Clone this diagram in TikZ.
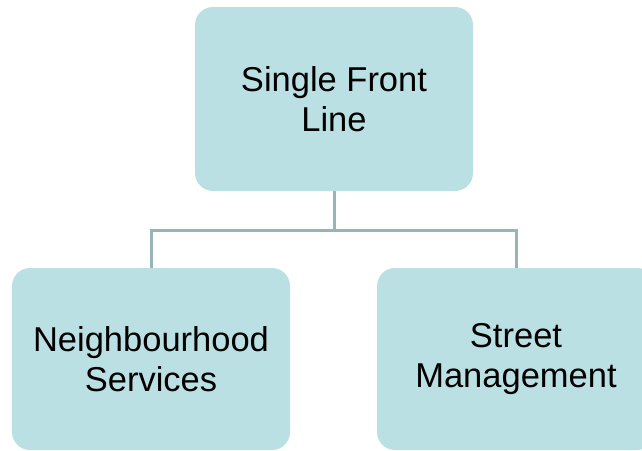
\documentclass[tikz,border=0pt]{standalone}
\usepackage{fontspec}
\setmainfont{Liberation Sans}
\definecolor{boxfill}{HTML}{BBE0E3}
\definecolor{linecol}{HTML}{97B4B8}
\begin{document}
\begin{tikzpicture}[x=1pt,y=-1pt,
  orgbox/.style={draw=none,fill=boxfill,rounded corners=18pt,minimum width=278pt,minimum height=182pt,
    align=center,inner sep=0pt,font=\fontsize{34.5}{40.5}\selectfont},
  conn/.style={draw=linecol,line width=3pt}]
\useasboundingbox (0,0) rectangle (642,450);
\clip (0,0) rectangle (642,450);
\node[orgbox,minimum height=184pt] (top) at (334,99) {Single Front\\Line};
\node[orgbox] (left) at (151,359) {Neighbourhood\\Services};
\node[orgbox] (right) at (516,359) {Street\\Management};
\coordinate (mid) at (334,230);
\draw[conn] (top.south) -- (mid);
\draw[conn] (left.north) -- (left.north |- mid) -- (right.north |- mid) -- (right.north);
\end{tikzpicture}
\end{document}
